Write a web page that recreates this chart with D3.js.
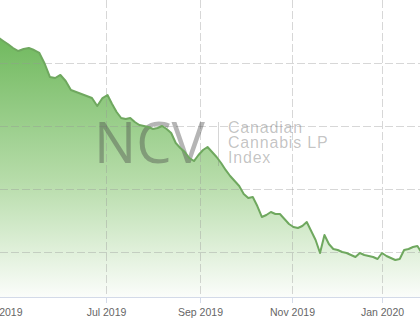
<!DOCTYPE html>
<html>
<head>
<meta charset="utf-8">
<script src="https://cdn.jsdelivr.net/npm/d3@7"></script>
<style>
  body { margin: 0; background: #fff; }
  svg { display: block; }
</style>
</head>
<body>
<div id="chart"></div>
<script>

// Index level, one reading every 3 days starting 30 Apr 2019
const startDate = new Date(2019, 3, 30);
const stepDays = 3;
const indexValues = [
    441.3, 435.7, 430.2, 423.8, 419.0, 422.2, 423.8, 420.6, 415.9, 399.2, 377.8,
    376.2, 381.0, 371.4, 357.1, 354.0, 350.8, 347.6, 344.4, 331.7, 344.4,
    349.2, 334.9, 322.2, 312.7, 311.1, 312.7, 306.3, 301.6, 300.0, 298.4,
    295.2, 296.8, 300.0, 295.2, 288.9, 273.0, 265.1, 258.7, 249.2, 244.4, 254.0,
    261.9, 266.7, 258.7, 250.8, 241.3, 230.2, 220.6, 212.7, 204.8, 192.1,
    185.7, 187.3, 173.0, 155.6, 158.7, 163.5, 160.3, 160.3, 152.4, 144.4,
    139.7, 138.1, 141.3, 147.6, 133.3, 119.0, 98.4, 127.0, 112.7, 104.8,
    103.2, 100.0, 98.4, 95.2, 92.1, 98.4, 95.2, 93.7, 92.1, 88.9,
    98.4, 93.7, 90.5, 87.3, 88.9, 103.2, 104.8, 107.9, 109.5, 98.4
];

// Month ticks on the x axis
const tickDates = [
    new Date(2019, 4, 1), new Date(2019, 6, 1), new Date(2019, 8, 1),
    new Date(2019, 10, 1), new Date(2020, 0, 1)
];
const tickLabels = ["May 2019", "Jul 2019", "Sep 2019", "Nov 2019", "Jan 2020"];

// Horizontal grid values (labels are outside the visible crop)
const gridValues = [100, 200, 300, 400];

const width = 420;
const height = 322;
const plotBottom = 297;

const data = indexValues.map((v, i) => ({
    date: d3.timeDay.offset(startDate, i * stepDays),
    value: v
}));

const svg = d3.select("#chart")
    .append("svg")
    .attr("width", width)
    .attr("height", height);

// The original axis spaces months unevenly, so use a piecewise time scale
const x = d3.scaleTime()
    .domain(tickDates)
    .range([-1, 106, 200, 292, 382]);

const y = d3.scaleLinear()
    .domain([0, 500])
    .range([315, 0]);

// Green gradient under the line
const grad = svg.append("defs")
    .append("linearGradient")
    .attr("id", "areaFill")
    .attr("gradientUnits", "userSpaceOnUse")
    .attr("x1", 0).attr("x2", 0)
    .attr("y1", y(d3.max(indexValues)))
    .attr("y2", plotBottom);

grad.append("stop").attr("offset", "0%").attr("stop-color", "#70b95e");
grad.append("stop").attr("offset", "55%").attr("stop-color", "#b6dca9");
grad.append("stop").attr("offset", "100%").attr("stop-color", "#fbfdfa");

svg.append("path")
    .datum(data)
    .attr("fill", "url(#areaFill)")
    .attr("d", d3.area()
        .x(d => x(d.date))
        .y0(plotBottom)
        .y1(d => y(d.value)));

// Dashed grid lines
const gridColor = "rgba(150,150,150,0.38)";

svg.append("g")
    .selectAll("line")
    .data(gridValues)
    .join("line")
    .attr("x1", 0)
    .attr("x2", width)
    .attr("y1", d => y(d) + 0.5)
    .attr("y2", d => y(d) + 0.5)
    .attr("stroke", gridColor)
    .attr("stroke-dasharray", "8,3");

svg.append("g")
    .selectAll("line")
    .data(tickDates)
    .join("line")
    .attr("x1", d => x(d) + 0.5)
    .attr("x2", d => x(d) + 0.5)
    .attr("y1", 0)
    .attr("y2", plotBottom)
    .attr("stroke", gridColor)
    .attr("stroke-dasharray", "8,3");

// Watermark
const mark = svg.append("g").attr("class", "watermark");

mark.append("text")
    .attr("x", 94)
    .attr("y", 163)
    .attr("font-family", "'Open Sans', sans-serif")
    .attr("font-weight", 400)
    .attr("font-size", 56)
    .attr("fill", "rgba(70,70,70,0.4)")
    .text("NCV");

mark.append("line")
    .attr("x1", 218.5).attr("x2", 218.5)
    .attr("y1", 122).attr("y2", 166)
    .attr("stroke", "rgba(120,120,120,0.3)");

mark.append("text")
    .attr("x", 228)
    .attr("y", 133)
    .attr("font-family", "'Liberation Sans', Arial, sans-serif")
    .attr("font-size", 16)
    .attr("letter-spacing", 0.8)
    .attr("fill", "rgba(70,70,70,0.33)")
    .selectAll("tspan")
    .data(["Canadian", "Cannabis LP", "Index"])
    .join("tspan")
    .attr("x", 228)
    .attr("dy", (d, i) => i === 0 ? 0 : 15)
    .text(d => d);

// Index line
svg.append("path")
    .datum(data)
    .attr("fill", "none")
    .attr("stroke", "#6fa85f")
    .attr("stroke-width", 2)
    .attr("stroke-linejoin", "round")
    .attr("d", d3.line()
        .x(d => x(d.date))
        .y(d => y(d.value)));

// X axis
svg.append("line")
    .attr("x1", 0)
    .attr("x2", width)
    .attr("y1", plotBottom + 0.5)
    .attr("y2", plotBottom + 0.5)
    .attr("stroke", "#d3dae8");

const xAxis = svg.append("g")
    .attr("transform", `translate(0,${plotBottom})`)
    .call(d3.axisBottom(x)
        .tickValues(tickDates)
        .tickFormat((d, i) => tickLabels[i])
        .tickSize(6)
        .tickPadding(6));

xAxis.select(".domain").remove();
xAxis.selectAll(".tick line").attr("stroke", "#d3dae8");
xAxis.selectAll(".tick text")
    .attr("fill", "#666")
    .attr("font-family", "'Liberation Sans', Arial, sans-serif")
    .attr("font-size", 10.5);

</script>
</body>
</html>
